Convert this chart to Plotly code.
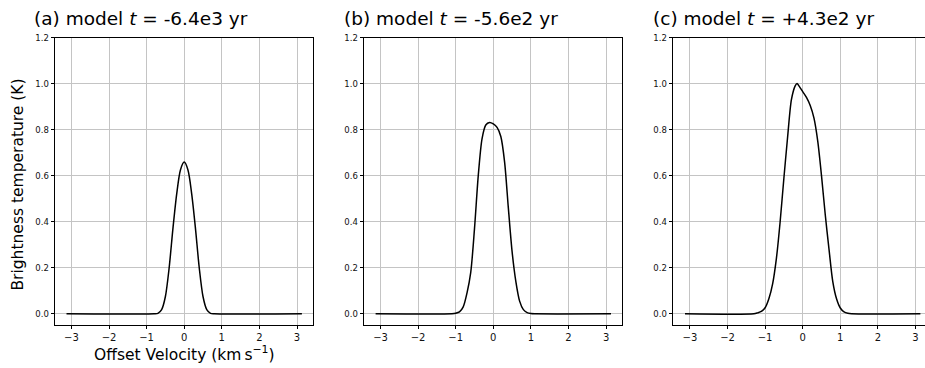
import plotly.graph_objects as go

# ---------------- data ----------------
panel_titles = ["(a) model <i>t</i> = -6.4e3 yr",
                "(b) model <i>t</i> = -5.6e2 yr",
                "(c) model <i>t</i> = +4.3e2 yr"]

vel_a = [-3.13, -0.8, -0.7, -0.6, -0.5, -0.4, -0.3, -0.2, -0.1, 0.0,
         0.1, 0.2, 0.3, 0.4, 0.5, 0.6, 0.7, 0.8, 3.13]
tb_a = [0.0, 0.0, 0.002, 0.018, 0.075, 0.20, 0.37, 0.52, 0.625, 0.659,
        0.625, 0.52, 0.37, 0.20, 0.075, 0.018, 0.002, 0.0, 0.0]

vel_b = [-3.13, -1.1, -1.0, -0.9, -0.8, -0.7, -0.6, -0.5, -0.4, -0.3, -0.2, -0.1,
         0.0, 0.1, 0.2, 0.3, 0.4, 0.5, 0.6, 0.7, 0.8, 0.9, 1.0, 1.1, 3.13]
tb_b = [0.0, 0.0, 0.002, 0.008, 0.03, 0.09, 0.18, 0.37, 0.60, 0.76, 0.82, 0.831,
        0.825, 0.81, 0.77, 0.66, 0.46, 0.27, 0.14, 0.055, 0.018, 0.005, 0.001, 0.0, 0.0]

vel_c = [-3.13, -1.3, -1.2, -1.1, -1.0, -0.9, -0.8, -0.7, -0.6, -0.5, -0.4, -0.3,
         -0.2, -0.15, -0.1, 0.0, 0.1, 0.2, 0.3, 0.4, 0.5, 0.6, 0.7, 0.8, 0.9,
         1.0, 1.1, 1.2, 1.3, 3.13]
tb_c = [0.0, 0.0, 0.004, 0.010, 0.026, 0.065, 0.13, 0.24, 0.40, 0.59, 0.77, 0.93,
        0.99, 1.0, 0.99, 0.965, 0.94, 0.905, 0.85, 0.75, 0.60, 0.43, 0.28, 0.14, 0.065,
        0.025, 0.008, 0.002, 0.0, 0.0]

x_ticks = [-3, -2, -1, 0, 1, 2, 3]
x_ticklabels = ["\u22123", "\u22122", "\u22121", "0", "1", "2", "3"]
y_ticks = [0.0, 0.2, 0.4, 0.6, 0.8, 1.0, 1.2]
y_ticklabels = ["0.0", "0.2", "0.4", "0.6", "0.8", "1.0", "1.2"]

x_title = "Offset Velocity (km\u2009s<sup>\u22121</sup>)"
y_title = "Brightness temperature (K)"

# ---------------- figure ----------------
W, H = 925, 368
FONT = "DejaVu Sans"

fig = go.Figure()
series = [(vel_a, tb_a), (vel_b, tb_b), (vel_c, tb_c)]
for i, (vx, vy) in enumerate(series):
    suffix = "" if i == 0 else str(i + 1)
    fig.add_trace(go.Scatter(
        x=vx, y=vy, mode="lines",
        line=dict(color="black", width=1.5, shape="spline", smoothing=0.8),
        xaxis="x" + suffix, yaxis="y" + suffix, showlegend=False,
        hoverinfo="skip"))

# pixel layout of the three panels
panels_px = [(55, 313, 184.2), (364, 622, 493.3), (673, 925, 802.7)]
px_per_unit = 37.6
y_top, y_bot = 33, 324
ydom = [1 - y_bot / H, 1 - y_top / H]
title_x = [32, 342, 651]

common_x = dict(
    tickmode="array", tickvals=x_ticks, ticktext=x_ticklabels,
    ticks="outside", ticklen=3.5, tickwidth=1, tickcolor="black",
    tickfont=dict(family=FONT, size=10, color="#111"),
    showgrid=True, gridcolor="#c4c4c4", gridwidth=1,
    zeroline=False, showline=True, linecolor="black", linewidth=1,
    mirror=True,
)
common_y = dict(
    tickmode="array", tickvals=y_ticks, ticktext=y_ticklabels,
    ticks="outside", ticklen=3.5, tickwidth=1, tickcolor="black",
    tickfont=dict(family=FONT, size=8.5, color="#111"),
    showgrid=True, gridcolor="#c4c4c4", gridwidth=1,
    zeroline=False, showline=True, linecolor="black", linewidth=1,
    range=[-0.047, 1.2],
)

annotations = []
for i, (l, r, z) in enumerate(panels_px):
    suffix = "" if i == 0 else str(i + 1)
    xr = [(l - z) / px_per_unit, (r - z) / px_per_unit]
    xa = dict(common_x, domain=[l / W, r / W], range=xr,
              anchor="y" + suffix)
    ya = dict(common_y, domain=ydom, anchor="x" + suffix,
              mirror=(i < 2))
    fig.update_layout(**{"xaxis" + suffix: xa, "yaxis" + suffix: ya})
    annotations.append(dict(
        text=panel_titles[i], x=title_x[i] / W, y=1 - 14 / H,
        xref="paper", yref="paper", xanchor="left", yanchor="middle",
        showarrow=False, font=dict(family=FONT, size=18.5, color="black")))

annotations.append(dict(
    text=x_title, x=(55 + 313) / 2 / W, y=1 - 353 / H,
    xref="paper", yref="paper", xanchor="center", yanchor="middle",
    showarrow=False, font=dict(family=FONT, size=15.5, color="black")))
annotations.append(dict(
    text=y_title, x=18 / W, y=1 - 182 / H, textangle=-90,
    xref="paper", yref="paper", xanchor="center", yanchor="middle",
    showarrow=False, font=dict(family=FONT, size=15.5, color="black")))

fig.update_layout(
    width=W, height=H,
    margin=dict(l=0, r=0, t=0, b=0),
    paper_bgcolor="white", plot_bgcolor="white",
    annotations=annotations,
    font=dict(family=FONT),
)

fig.write_html("out.html")
